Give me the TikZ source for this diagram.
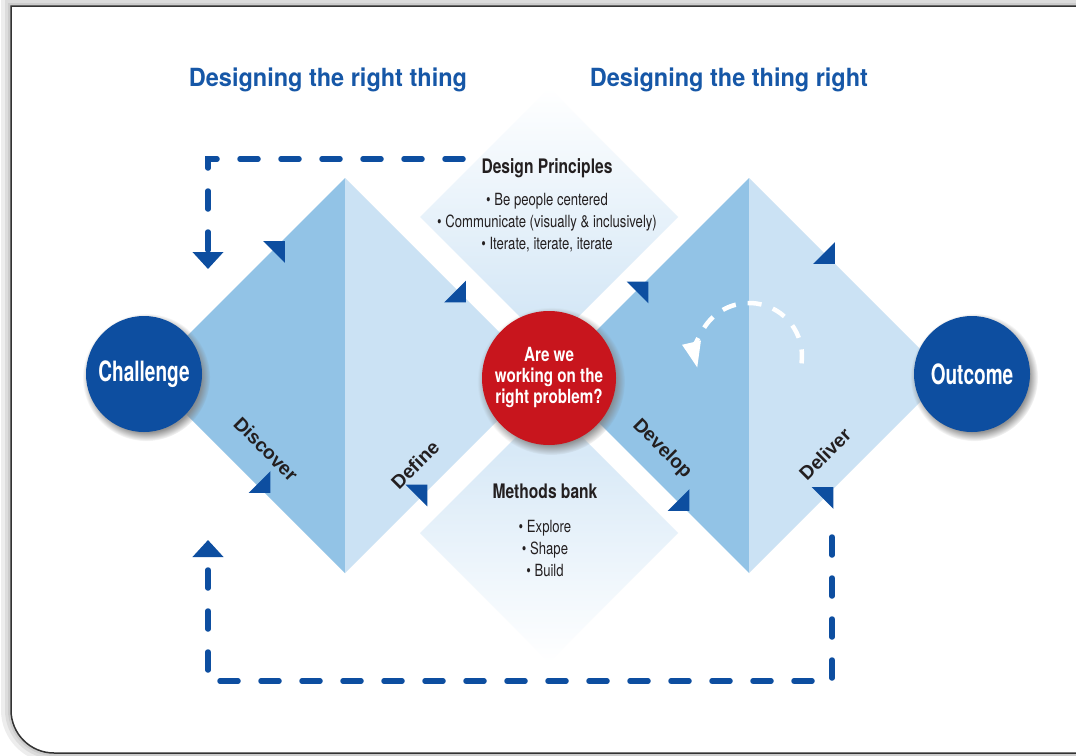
\documentclass[tikz,border=0pt]{standalone}
\usepackage{fontspec}
\setmainfont{TeX Gyre Heros}
\newfontfamily\condfont[FakeStretch=0.78]{TeX Gyre Heros}
\newfontfamily\circfont[FakeStretch=0.68]{TeX Gyre Heros}
\newfontfamily\titlefont[FakeStretch=0.94]{TeX Gyre Heros}
\newfontfamily\phasefont{Liberation Sans}
\usetikzlibrary{positioning,arrows.meta,shadows}

\definecolor{stageblue}{HTML}{0D4EA0}
\definecolor{darkhalf}{HTML}{92C3E6}
\definecolor{lighthalf}{HTML}{CBE2F4}
\definecolor{paleblue}{HTML}{CFE4F5}
\definecolor{problemred}{HTML}{C8151D}
\definecolor{titleblue}{HTML}{1657A7}
\definecolor{ink}{HTML}{231F20}

\tikzset{
    flowtip/.pic = {\fill[stageblue] (15.5,0) -- (0,15.5) -- (0,-15.5) -- cycle;}
}

\begin{document}
\begin{tikzpicture}[
    x=0.5pt, y=-0.5pt,
    stage/.style = {circle, fill=stageblue, minimum size=58pt, inner sep=0pt, text=white, font=\circfont\bfseries\fontsize{14}{16}\selectfont, circular drop shadow={shadow xshift=1pt, shadow yshift=-1.5pt, shadow scale=1.1, opacity=0.85}},
    question/.style = {stage, fill=problemred, minimum size=67pt, align=center, font=\condfont\bfseries\fontsize{9.75}{10.5}\selectfont},
    heading/.style = {anchor=base, text=titleblue, font=\titlefont\bfseries\fontsize{12.5}{15}\selectfont},
    boxhead/.style = {anchor=base, text=ink, font=\condfont\bfseries\fontsize{10}{12}\selectfont},
    bullet/.style = {inner sep=0pt, text height=7.5pt, text depth=3pt, text=ink, font=\condfont\fontsize{8.4}{10.5}\selectfont},
    phase/.style = {text=ink, font=\phasefont\bfseries\fontsize{9.6}{11}\selectfont},
    feedback/.style = {stageblue, line width=2.75pt, line cap=round, dash pattern=on 9pt off 11.5pt, -{Triangle[width=15pt, length=8.5pt]}},
    iterloop/.style = {white, line width=2.25pt, dash pattern=on 7pt off 6pt, -{Triangle[width=9pt, length=13pt]}}
]

\useasboundingbox (0,0) rectangle (1076,755);

% frame
\foreach \w in {10,6,3}
    \draw[black, opacity=0.07, line width=\w pt] (1100,6) -- (11,6) -- (11,710) arc[start angle=180, end angle=90, radius=43] -- (1100,753);
\fill[white] (1100,6) -- (11,6) -- (11,710) arc[start angle=180, end angle=90, radius=43] -- (1100,753) -- cycle;
\draw[black!80, line width=0.75pt] (1100,6) -- (11,6) -- (11,710) arc[start angle=180, end angle=90, radius=43] -- (1100,753);

\coordinate (ldia) at (345,375.5);
\coordinate (rdia) at (749,375.5);
\coordinate (upper) at (549,217);
\coordinate (lower) at (549,533);

% middle boxes
\shade[top color=white, bottom color=paleblue] (upper) ++(-129,0) -- ++(129,-129) -- ++(129,129) -- ++(-129,129) -- cycle;
\shade[top color=paleblue, bottom color=white] (lower) ++(-129,0) -- ++(129,-129) -- ++(129,129) -- ++(-129,129) -- cycle;

% the two diamonds
\foreach \d in {ldia,rdia} {
    \fill[darkhalf] (\d) ++(-197.5,0) -- ++(197.5,-197.5) -- ++(0,395) -- cycle;
    \fill[lighthalf] (\d) ++(197.5,0) -- ++(-197.5,-197.5) -- ++(0,395) -- cycle;
}

\foreach \px/\py/\ang in {274/252/45, 455/291.5/-45, 637.5/292.5/45, 824/253/-45, 259.5/482/-45, 416.5/495.5/45, 678.5/500/-45, 822.5/498/45}
    \pic[rotate=\ang] at (\px,\py) {flowtip};

\node[heading] (rightthing) at (328,86) {Designing the right thing};
\node[heading] (thingright) at (729,86) {Designing the thing right};

\node[boxhead] (dphead) at (547,173) {Design Principles};
\node[bullet, below=8.5pt of dphead.base] (dp1) {\textbullet\ Be people centered};
\node[bullet, below=0pt of dp1] (dp2) {\textbullet\ Communicate (visually \& inclusively)};
\node[bullet, below=0pt of dp2] (dp3) {\textbullet\ Iterate, iterate, iterate};

\node[boxhead] (mbhead) at (545,498) {Methods bank};
\node[bullet, below=9.5pt of mbhead.base] (mb1) {\textbullet\ Explore};
\node[bullet, below=0pt of mb1] (mb2) {\textbullet\ Shape};
\node[bullet, below=0pt of mb2] (mb3) {\textbullet\ Build};

\node[phase, rotate=-45] (discover) at (266,449) {Discover};
\node[phase, rotate=45] (define) at (415,465) {Define};
\node[phase, rotate=-45] (develop) at (662,449) {Develop};
\node[phase, rotate=45] (deliver) at (825,454) {Deliver};

\node[stage] (challenge) at (144,374) {Challenge};
\node[stage] (outcome) at (972,374) {Outcome};
\node[question] (problem) at (549,378) {Are we\\working on the\\right problem?};

% feedback loops
\coordinate (topend) at (463,159);
\coordinate (topcorner) at (208,159);
\coordinate (topdrop) at (208,269);
\draw[feedback] (topend) -- (topcorner) -- (topdrop);

\coordinate (botstart) at (832,537);
\coordinate (botturn) at (832,681);
\coordinate (botcorner) at (208,681);
\coordinate (botrise) at (208,540);
\draw[feedback] (botstart) -- (botturn) -- (botcorner) -- (botrise);

\coordinate (iterc) at (749,356);
\draw[iterloop] (iterc) ++(8:53) arc[start angle=8, end angle=-193, radius=53];

\end{tikzpicture}
\end{document}
